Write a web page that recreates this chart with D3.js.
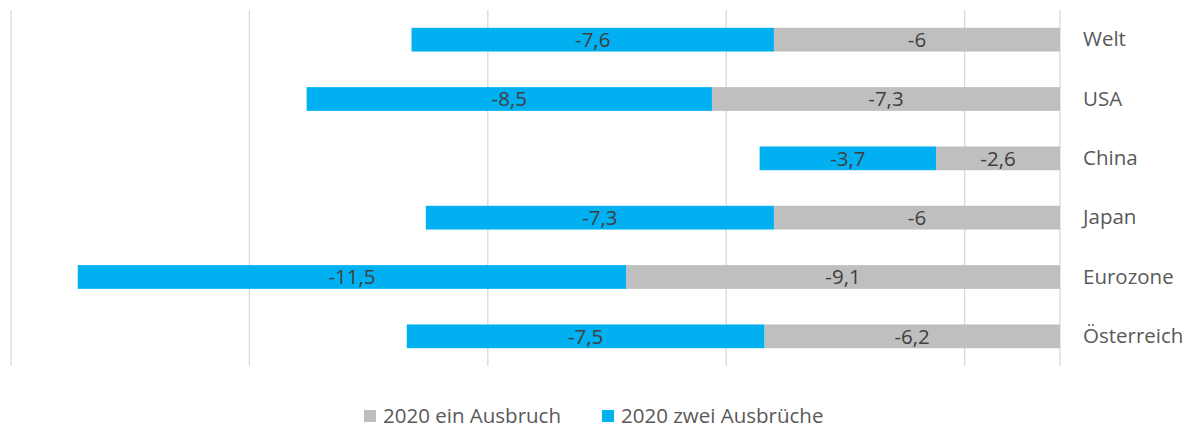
<!DOCTYPE html>
<html>
<head>
<meta charset="utf-8">
<script src="https://cdn.jsdelivr.net/npm/d3@7"></script>
<style>
  body { margin: 0; background: #fff; }
  text { font-family: "Open Sans", sans-serif; }
</style>
</head>
<body>
<svg width="1195" height="428"></svg>
<script>
// categories, top to bottom
var regions = ["Welt", "USA", "China", "Japan", "Eurozone", "Österreich"];
// series values (stacked: grey first from zero, blue beyond it)
var einAusbruch = [-6, -7.3, -2.6, -6, -9.1, -6.2];
var zweiAusbrueche = [-7.6, -8.5, -3.7, -7.3, -11.5, -7.5];
var seriesNames = ["2020 ein Ausbruch", "2020 zwei Ausbrüche"];
var gridTicks = [-22, -17, -12, -7, -2];

var svg = d3.select("svg"),
    margin = { top: 10, right: 135, bottom: 62, left: 11 },
    width = +svg.attr("width") - margin.left - margin.right,
    height = +svg.attr("height") - margin.top - margin.bottom;

var colors = ["#bfbfbf", "#00b0f0"];
var fontFam = "\"Open Sans\", sans-serif";
var fontSize = "20.5px";

var x = d3.scaleLinear()
    .domain([-22, 0])
    .range([0, width]);

var y = d3.scaleBand()
    .domain(regions)
    .range([0, height])
    .paddingInner(0.6)
    .paddingOuter(0.3);

var g = svg.append("g")
    .attr("transform", "translate(" + margin.left + "," + margin.top + ")");

// vertical gridlines
g.selectAll(".grid")
    .data(gridTicks.concat([0]))
    .enter().append("line")
    .attr("class", "grid")
    .attr("x1", function(d) { return x(d); })
    .attr("x2", function(d) { return x(d); })
    .attr("y1", 0)
    .attr("y2", height)
    .style("stroke", "#d9d9d9")
    .style("stroke-width", 1.3);

var rows = regions.map(function(r, i) {
    return { region: r, a: einAusbruch[i], b: zweiAusbrueche[i] };
});

// grey segment: 0 -> a
g.selectAll(".barA")
    .data(rows)
    .enter().append("rect")
    .attr("class", "barA")
    .attr("x", function(d) { return x(d.a); })
    .attr("y", function(d) { return y(d.region); })
    .attr("width", function(d) { return x(0) - x(d.a); })
    .attr("height", y.bandwidth())
    .style("fill", colors[0]);

// blue segment: a -> a + b
g.selectAll(".barB")
    .data(rows)
    .enter().append("rect")
    .attr("class", "barB")
    .attr("x", function(d) { return x(d.a + d.b); })
    .attr("y", function(d) { return y(d.region); })
    .attr("width", function(d) { return x(d.a) - x(d.a + d.b); })
    .attr("height", y.bandwidth())
    .style("fill", colors[1]);

var fmt = function(v) { return String(v).replace(".", ","); };

// data labels
g.selectAll(".labA")
    .data(rows)
    .enter().append("text")
    .attr("x", function(d) { return (x(0) + x(d.a)) / 2; })
    .attr("y", function(d) { return y(d.region) + y.bandwidth() / 2; })
    .attr("dy", "0.35em")
    .attr("text-anchor", "middle")
    .style("font-size", fontSize)
    .style("fill", "#404040")
    .text(function(d) { return fmt(d.a); });

g.selectAll(".labB")
    .data(rows)
    .enter().append("text")
    .attr("x", function(d) { return (x(d.a) + x(d.a + d.b)) / 2; })
    .attr("y", function(d) { return y(d.region) + y.bandwidth() / 2; })
    .attr("dy", "0.35em")
    .attr("text-anchor", "middle")
    .style("font-size", fontSize)
    .style("fill", "#404040")
    .text(function(d) { return fmt(d.b); });

// category axis on the right
g.append("g")
    .attr("transform", "translate(" + width + ",0)")
    .call(d3.axisRight(y).tickSize(0).tickPadding(23))
    .call(function(a) { a.select(".domain").remove(); })
    .selectAll("text")
    .style("font-size", fontSize)
    .style("font-family", fontFam)
    .style("fill", "#595959");

// legend
var legendX = [364, 602];
var legend = svg.selectAll(".legend")
    .data(seriesNames)
    .enter().append("g")
    .attr("class", "legend")
    .attr("transform", function(d, i) { return "translate(" + legendX[i] + ",416)"; });

legend.append("rect")
    .attr("x", 0)
    .attr("y", -6)
    .attr("width", 12)
    .attr("height", 12)
    .style("fill", function(d, i) { return colors[i]; });

legend.append("text")
    .attr("x", 19)
    .attr("dy", "0.35em")
    .style("font-size", fontSize)
    .style("fill", "#595959")
    .text(function(d) { return d; });
</script>
</body>
</html>
